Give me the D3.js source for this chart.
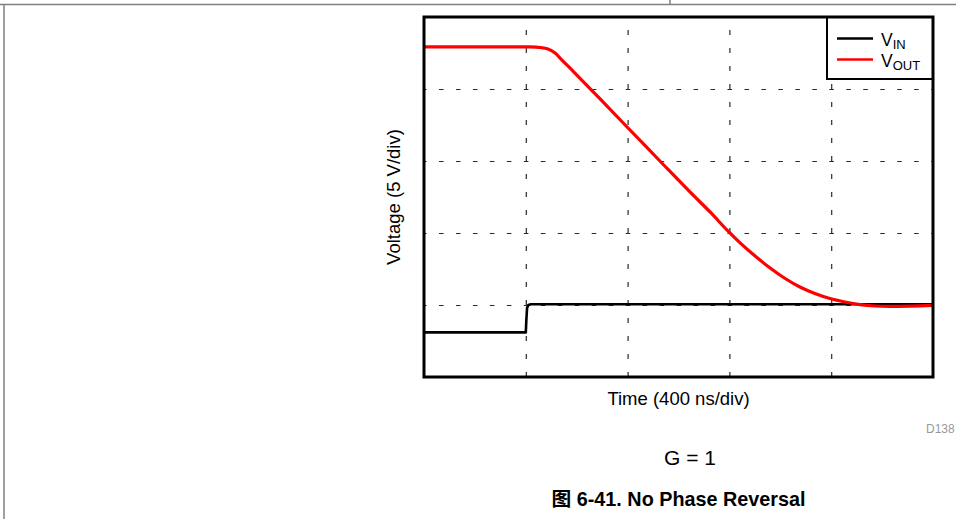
<!DOCTYPE html>
<html><head><meta charset="utf-8">
<script src="https://cdn.jsdelivr.net/npm/d3@7"></script>
<style>body{margin:0;background:#fff}svg{display:block}</style>
</head><body><svg id="c" width="956" height="519"></svg>
<script>
// ---- data (time in ns, voltage in V; 400 ns/div, 5 V/div) ----
const vinTime  = [0, 400, 402, 405, 410, 420, 2000];
const vinVolts = [3.1, 3.1, 3.9, 4.8, 5.0, 5.05, 5.05];
const voutTime  = [0, 200, 416, 456, 487, 515, 542, 593, 692, 798, 927, 1045, 1124, 1194, 1242, 1301, 1360, 1419, 1477, 1536, 1595, 1654, 1713, 1772, 1831, 1910, 2000];
const voutVolts = [22.92, 22.92, 22.92, 22.88, 22.78, 22.5, 22.01, 21.11, 19.31, 17.36, 15.0, 12.85, 11.46, 10.14, 9.31, 8.40, 7.57, 6.84, 6.25, 5.80, 5.45, 5.21, 5.03, 4.93, 4.90, 4.92, 4.97];
const xTicks = [400, 800, 1200, 1600];
const yTicks = [5, 10, 15, 20];
const xDomain = [0, 2000];
const yDomain = [0, 25];
const seriesNames = [["V", "IN"], ["V", "OUT"]];
const seriesColors = ["#000000", "#ff0000"];
const xLabel = "Time (400 ns/div)";
const yLabel = "Voltage (5 V/div)";
const noteText = "D138";
const subText = "G = 1";
const titleText = "图 6-41. No Phase Reversal";

// ---- layout ----
const svg = d3.select("#c");
const L = 424, T = 17, W = 509, H = 360;
const FONT = "'Liberation Sans', Arial, 'Noto Sans CJK SC', sans-serif";

// page borders
svg.append("line").attr("x1", 0).attr("x2", 956).attr("y1", 4.5).attr("y2", 4.5).attr("stroke", "#808080").attr("stroke-width", 1.5);
svg.append("line").attr("x1", 670).attr("x2", 670).attr("y1", 0).attr("y2", 4.5).attr("stroke", "#808080").attr("stroke-width", 1.5);
svg.append("line").attr("x1", 4).attr("x2", 4).attr("y1", 4.5).attr("y2", 519).attr("stroke", "#808080").attr("stroke-width", 1.5);

const x = d3.scaleLinear().domain(xDomain).range([0, W]);
const y = d3.scaleLinear().domain(yDomain).range([H, 0]);

const g = svg.append("g").attr("transform", `translate(${L},${T})`);

// grid via axes
const gx = g.append("g").attr("transform", `translate(0,${H})`)
  .call(d3.axisBottom(x).tickValues(xTicks).tickSizeInner(-H).tickSizeOuter(0).tickFormat(""));
gx.select(".domain").remove();
gx.selectAll(".tick line").attr("stroke", "#2a2a2a").attr("stroke-width", 1.2).attr("stroke-dasharray", "5,13");

const gy = g.append("g")
  .call(d3.axisLeft(y).tickValues(yTicks).tickSizeInner(-W).tickSizeOuter(0).tickFormat(""));
gy.select(".domain").remove();
gy.selectAll(".tick line").attr("stroke", "#2a2a2a").attr("stroke-width", 1.2)
  .attr("stroke-dasharray", "4.6,12.37").attr("stroke-dashoffset", 2);

// series
const vin = vinTime.map((t, i) => [t, vinVolts[i]]);
const vout = voutTime.map((t, i) => [t, voutVolts[i]]);
g.append("path").datum(vin).attr("d", d3.line().x(d => x(d[0])).y(d => y(d[1])))
  .attr("fill", "none").attr("stroke", seriesColors[0]).attr("stroke-width", 2.6).attr("stroke-linejoin", "round");
g.append("path").datum(vout)
  .attr("d", d3.line().x(d => x(d[0])).y(d => y(d[1])).curve(d3.curveCatmullRom.alpha(0.5)))
  .attr("fill", "none").attr("stroke", seriesColors[1]).attr("stroke-width", 3.2).attr("stroke-linejoin", "round");

// legend
const lg = g.append("g").attr("transform", `translate(${W - 106},0)`);
lg.append("rect").attr("x", 0).attr("y", 0).attr("width", 106).attr("height", 62)
  .attr("fill", "#fff").attr("stroke", "#000").attr("stroke-width", 2);
seriesNames.forEach((nm, i) => {
  const yy = 21.5 + i * 21;
  lg.append("line").attr("x1", 10).attr("x2", 46).attr("y1", yy).attr("y2", yy)
    .attr("stroke", seriesColors[i]).attr("stroke-width", 2.4);
  const t = lg.append("text").attr("x", 54).attr("y", yy + 7).attr("font-family", FONT).attr("font-size", 17.5).attr("fill", "#000");
  t.append("tspan").text(nm[0]);
  t.append("tspan").attr("font-size", 13).attr("dy", 3).text(nm[1]);
});

// frame
g.append("rect").attr("x", 0).attr("y", 0).attr("width", W).attr("height", H)
  .attr("fill", "none").attr("stroke", "#000").attr("stroke-width", 3);

// labels
svg.append("text").attr("x", L + W / 2).attr("y", 405).attr("text-anchor", "middle")
  .attr("font-family", FONT).attr("font-size", 18.5).attr("fill", "#000").text(xLabel);
svg.append("text").attr("transform", `translate(400,${T + H / 2}) rotate(-90)`).attr("text-anchor", "middle")
  .attr("font-family", FONT).attr("font-size", 18.5).attr("fill", "#000").text(yLabel);
svg.append("text").attr("x", 926).attr("y", 433).attr("font-family", FONT).attr("font-size", 12).attr("fill", "#999").text(noteText);
svg.append("text").attr("x", 690).attr("y", 465).attr("text-anchor", "middle")
  .attr("font-family", FONT).attr("font-size", 21).attr("fill", "#000").text(subText);
svg.append("text").attr("x", L + W / 2).attr("y", 506).attr("text-anchor", "middle")
  .attr("font-family", FONT).attr("font-size", 19.8).attr("font-weight", "bold").attr("fill", "#000").text(titleText);
</script></body></html>
